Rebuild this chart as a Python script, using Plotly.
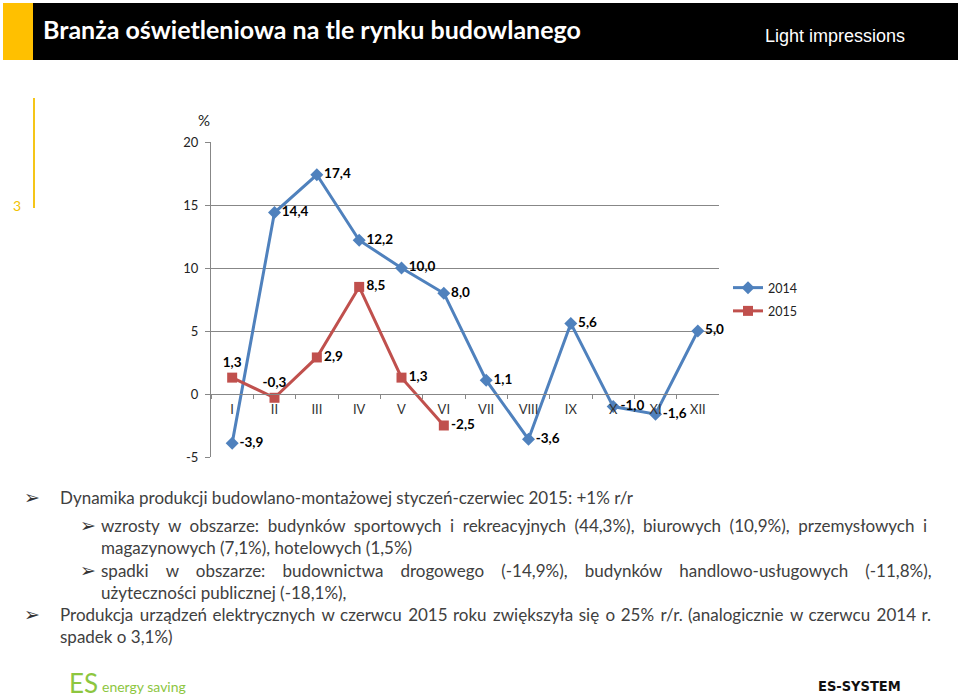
import plotly.graph_objects as go

# ---------------- data ----------------
months = ["I", "II", "III", "IV", "V", "VI", "VII", "VIII", "IX", "X", "XI", "XII"]
v2014 = [-3.9, 14.4, 17.4, 12.2, 10.0, 8.0, 1.1, -3.6, 5.6, -1.0, -1.6, 5.0]
months2015 = ["I", "II", "III", "IV", "V", "VI"]
v2015 = [1.3, -0.3, 2.9, 8.5, 1.3, -2.5]
pos2014 = ["middle right"] * 12
pos2015 = ["top center", "top center", "middle right", "middle right", "middle right", "middle right"]
y_ticks = [-5, 0, 5, 10, 15, 20]
y_ticktext = ["-5", "0", "5", "10", "15", "20"]

title_text = "Branża oświetleniowa na tle rynku budowlanego"
brand_text = "Light impressions"

W, H = 960, 700
def X(px): return px / W
def Y(py): return 1 - py / H

def fmt(v):
    return "<b>" + f"{v:.1f}".replace(".", ",") + "</b>"

BLUE = "#4F81BD"
RED = "#C0504D"
GRID = "#878787"
TXT = "#404040"
FONT = "Lato"

fig = go.Figure()
fig.add_trace(go.Scatter(
    x=months, y=v2014, name="2014", mode="lines+markers+text", legendgroup="a",
    line=dict(color=BLUE, width=3), marker=dict(symbol="diamond", size=10, color=BLUE),
    text=[fmt(v) for v in v2014], textposition=pos2014,
    textfont=dict(family=FONT, size=13.5, color="#000000"), cliponaxis=False))
fig.add_trace(go.Scatter(
    x=months2015, y=v2015, name="2015", mode="lines+markers+text", legendgroup="b",
    line=dict(color=RED, width=3), marker=dict(symbol="square", size=10, color=RED),
    text=[fmt(v) for v in v2015], textposition=pos2015,
    textfont=dict(family=FONT, size=13.5, color="#000000"), cliponaxis=False))

ydom = [Y(457), Y(142)]
zero_pos = ydom[0] + (0 - (-5)) / 25 * (ydom[1] - ydom[0])

fig.update_layout(
    width=W, height=H, autosize=False, margin=dict(l=0, r=0, t=0, b=0, pad=0, autoexpand=False),
    paper_bgcolor="white", plot_bgcolor="white",
    font=dict(family=FONT, color="#222222"),
    xaxis=dict(type="category", domain=[X(211), X(719)], range=[-0.5, 11.5], automargin=False,
               anchor="free", position=zero_pos, showline=True, linecolor=GRID, linewidth=1,
               ticks="outside", tickson="boundaries", ticklen=4, tickcolor=GRID, ticklabelstandoff=3,
               showgrid=False, tickfont=dict(family=FONT, size=13, color="#333333")),
    yaxis=dict(domain=ydom, range=[-5, 20], tickvals=y_ticks, ticktext=y_ticktext, automargin=False,
               showgrid=True, gridcolor=GRID, gridwidth=1, zeroline=False,
               showline=True, linecolor=GRID, linewidth=1, ticks="outside", ticklen=5,
               tickcolor=GRID, ticklabelstandoff=4,
               tickfont=dict(family=FONT, size=13, color="#222222")),
    legend=dict(x=X(728), y=Y(273), xanchor="left", yanchor="top",
                font=dict(family=FONT, size=12.5, color="#222222"),
                bgcolor="rgba(0,0,0,0)", traceorder="grouped", tracegroupgap=4),
    showlegend=True,
)

shapes = [
    dict(type="rect", xref="paper", yref="paper", x0=X(3), x1=X(33), y0=Y(60), y1=Y(3),
         fillcolor="#FFC000", line=dict(width=0), layer="below"),
    dict(type="rect", xref="paper", yref="paper", x0=X(33), x1=X(958), y0=Y(60), y1=Y(3),
         fillcolor="#000000", line=dict(width=0), layer="below"),
    dict(type="line", xref="paper", yref="paper", x0=X(34), x1=X(34), y0=Y(208), y1=Y(98),
         line=dict(color="#F5C518", width=2)),
]
fig.update_layout(shapes=shapes)

ann = []
def text(px, py, s, size, color=TXT, family=FONT, xanchor="left", bold=False):
    if bold:
        s = "<b>" + s + "</b>"
    ann.append(dict(xref="paper", yref="paper", x=X(px), y=Y(py), text=s, showarrow=False,
                    xanchor=xanchor, yanchor="middle", font=dict(family=family, size=size, color=color)))

text(41, 29, title_text, 25, color="white", bold=True)
text(763, 36, brand_text, 18, color="white", family="Liberation Sans")
text(17, 205, "3", 14, color="#F2C200", xanchor="center")
text(204, 120, "%", 15, color="#222222", xanchor="center")

BUL = "\u27a2"
def just(words, pad):
    if isinstance(pad, str):
        pad = [pad] * (len(words) - 1)
    out = words[0]
    for w, p in zip(words[1:], pad):
        out += " " + p + w
    return out

EN = "\u2002"
P4 = "\u2005"
HAIR = "\u200a"
H2 = HAIR + HAIR

lines = [
    (22, 58, 497, True, ["Dynamika", "produkcji", "budowlano-montażowej", "styczeń-czerwiec", "2015:", "+1%", "r/r"], ""),
    (78, 99, 525, True, ["wzrosty", "w", "obszarze:", "budynków", "sportowych", "i", "rekreacyjnych",
                         "(44,3%),", "biurowych", "(10,9%),", "przemysłowych", "i"], P4),
    (78, 99, 547, False, ["magazynowych", "(7,1%),", "hotelowych", "(1,5%)"], ""),
    (78, 99, 570, True, ["spadki", "w", "obszarze:", "budownictwa", "drogowego", "(-14,9%),", "budynków",
                         "handlowo-usługowych", "(-11,8%),"], EN + P4),
    (78, 99, 592, False, ["użyteczności", "publicznej", "(-18,1%),"], ""),
    (22, 58, 614, True, ["Produkcja", "urządzeń", "elektrycznych", "w", "czerwcu", "2015", "roku", "zwiększyła",
                         "się", "o", "25%", "r/r.", "(analogicznie", "w", "czerwcu", "2014", "r."],
     [H2, HAIR] * 8),
    (22, 58, 636, False, ["spadek", "o", "3,1%)"], ""),
]
for bx, tx, ty, has_bullet, words, pad in lines:
    if has_bullet:
        text(bx, ty, BUL, 19, color="#333333", family="DejaVu Sans")
    text(tx, ty, just(words, pad), 17, color=TXT)

# footer
text(67, 683, "ES", 26, color="#8DC63F", family="Lato")
text(100, 686, "energy saving", 14, color="#8DC63F")
text(816, 686, "ES-SYSTEM", 14.5, color="#111111", family="DejaVu Sans Condensed", bold=True)

fig.update_layout(annotations=ann)
post = ("document.documentElement.style.margin='0';document.body.style.margin='0';"
        "document.documentElement.style.overflow='hidden';document.body.style.overflow='hidden';")
fig.write_html("out.html", config={"displayModeBar": False}, post_script=post)
